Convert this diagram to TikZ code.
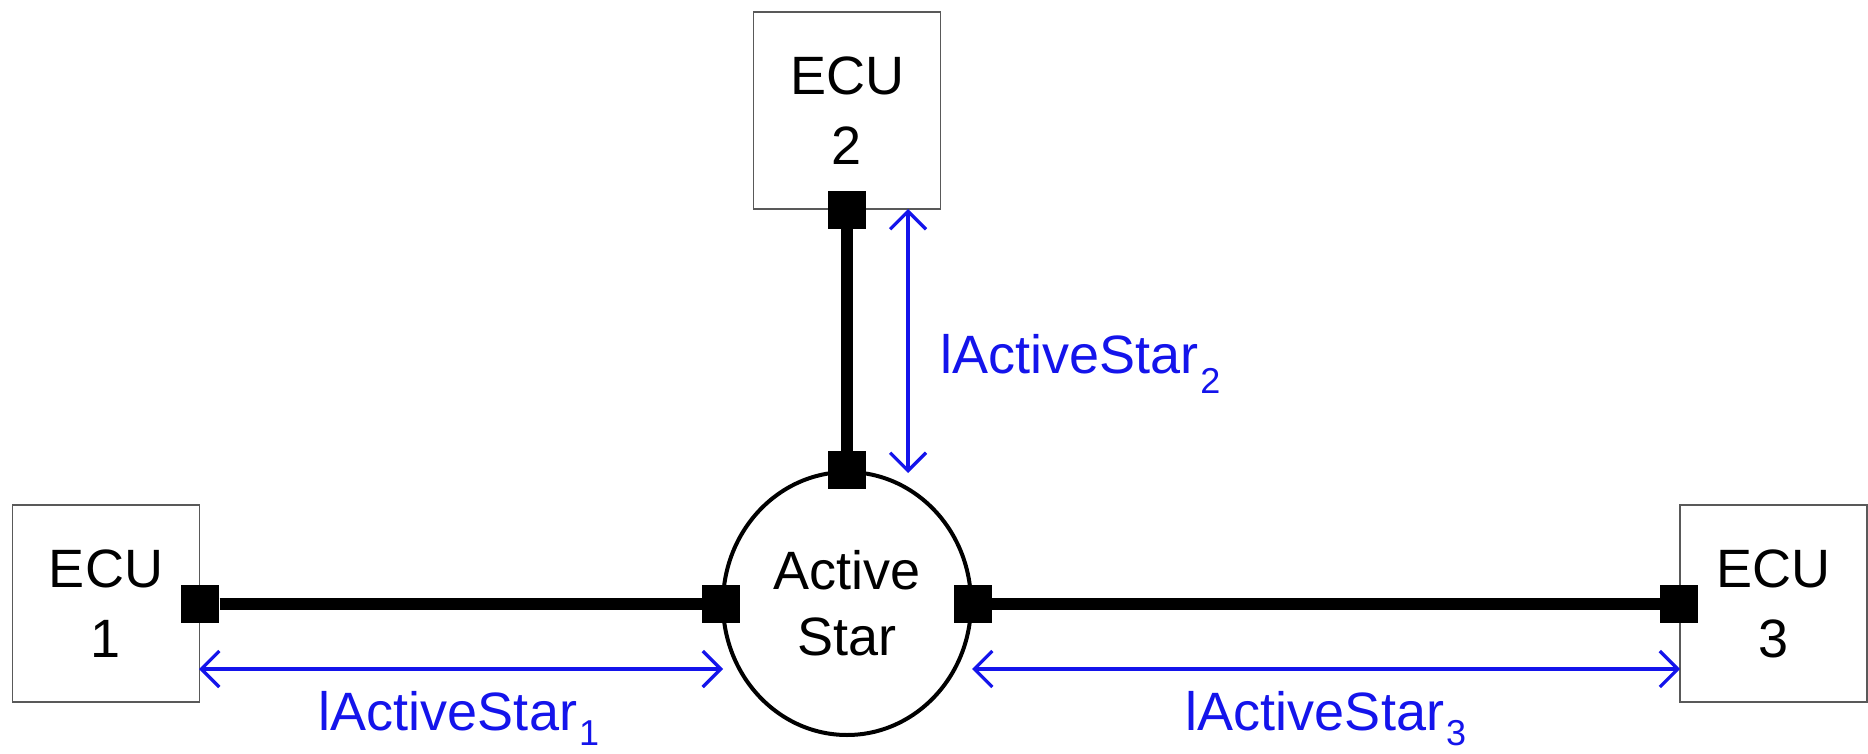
\documentclass[tikz,border=0pt]{standalone}
\usepackage{fontspec}
\setmainfont{Liberation Sans}
\usetikzlibrary{shapes.geometric,arrows.meta}
\definecolor{dimblue}{RGB}{20,20,235}
\begin{document}
\begin{tikzpicture}[x=0.5pt,y=-0.5pt,
  ecu/.style={draw=black!65,line width=0.8pt,fill=white,minimum width=93.5pt,minimum height=98.5pt,inner sep=0pt,align=center,font=\fontsize{27}{35}\selectfont},
  starnode/.style={ellipse,draw,line width=2pt,fill=white,minimum width=124pt,minimum height=131.5pt,inner sep=0pt,align=center,font=\fontsize{27}{33}\selectfont},
  port/.style={fill=black,minimum size=19pt,inner sep=0pt},
  bus/.style={line width=6pt},
  dim/.style={draw=dimblue,line width=1.6pt,{Straight Barb[length=9pt,width=18pt]}-{Straight Barb[length=9pt,width=18pt]}},
  dimlabel/.style={text=dimblue,font=\fontsize{27}{33}\selectfont,inner sep=0pt}
]
\useasboundingbox (0,0) rectangle (1868,754);

\node[ecu] (ecu1) at (106,603.5) {ECU\\1};
\node[ecu] (ecu2) at (847,110.5) {ECU\\2};
\node[ecu] (ecu3) at (1773.5,603.5) {ECU\\3};
\node[starnode] (star) at (847,603.5) {Active\\Star};

\node[port] (p1) at (ecu1.east) {};
\node[port] (p2) at (ecu2.south) {};
\node[port] (p3) at (ecu3.west) {};
\node[port] (s1) at (star.west) {};
\node[port] (s2) at (star.north) {};
\node[port] (s3) at (star.east) {};

\draw[bus] (p1) -- (s1);
\draw[bus] (p2) -- (s2);
\draw[bus] (s3) -- (p3);

\coordinate (a1s) at (199,669);
\coordinate (a1e) at (723,669);
\coordinate (a2s) at (908,209);
\coordinate (a2e) at (908,473);
\coordinate (a3s) at (972,669);
\coordinate (a3e) at (1680,669);

\draw[dim] (a1s) -- (a1e);
\draw[dim] (a2s) -- (a2e);
\draw[dim] (a3s) -- (a3e);

\node[dimlabel,anchor=base] (l1) at (459,730) {lActiveStar\kern1pt\raisebox{-7.5pt}{\fontsize{18}{18}\selectfont 1}};
\node[dimlabel,anchor=base west] (l2) at (940,373) {lActiveStar\kern1pt\raisebox{-10pt}{\fontsize{18}{18}\selectfont 2}};
\node[dimlabel,anchor=base] (l3) at (1326,730) {lActiveStar\kern1pt\raisebox{-7.5pt}{\fontsize{18}{18}\selectfont 3}};
\end{tikzpicture}
\end{document}
